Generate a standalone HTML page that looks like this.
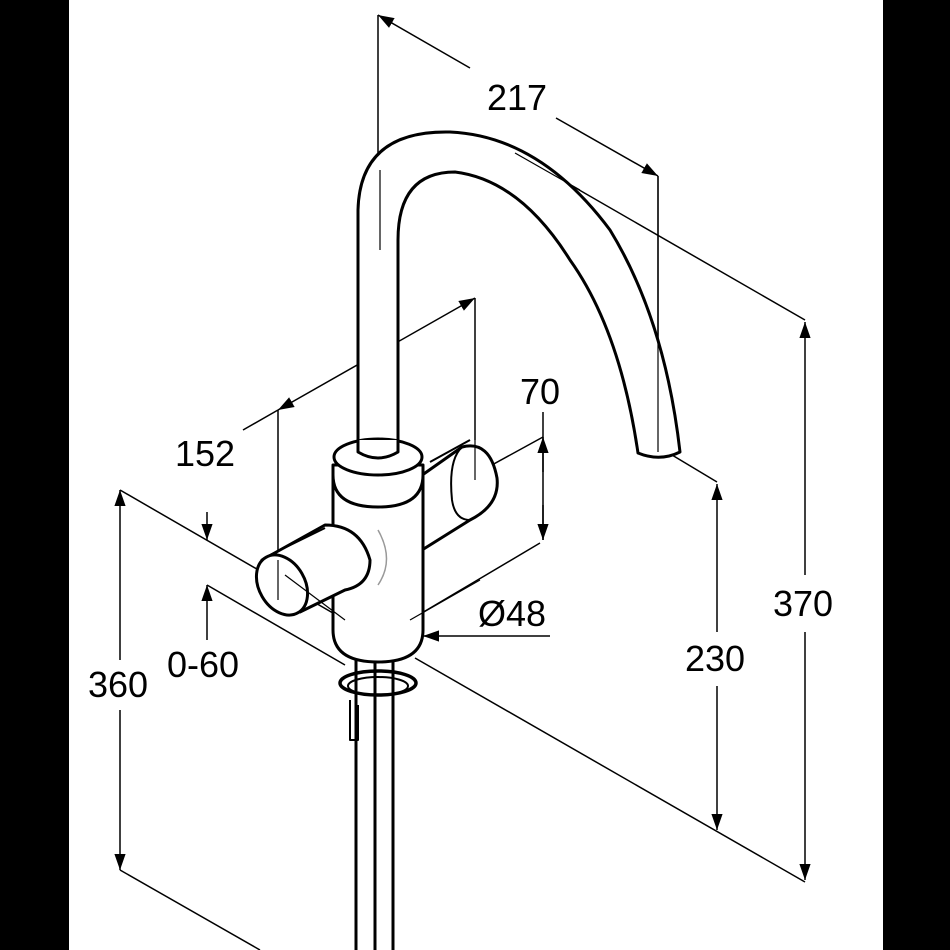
<!DOCTYPE html>
<html><head><meta charset="utf-8"><style>
html,body{margin:0;padding:0;background:#000;}
svg{display:block}
text{font-family:"Liberation Sans",sans-serif;font-size:36px;fill:#000}
</style></head><body>
<svg width="950" height="950" viewBox="0 0 950 950" xmlns="http://www.w3.org/2000/svg">
<defs>
<marker id="a" viewBox="0 0 10 10" refX="10" refY="5" markerWidth="16" markerHeight="16" markerUnits="userSpaceOnUse" orient="auto-start-reverse"><path d="M0,1.5 L10,5 L0,8.5z" fill="#000"/></marker>
</defs>
<rect x="0" y="0" width="950" height="950" fill="#000"/>
<rect x="69" y="0" width="814" height="950" fill="#fff"/>
<g stroke="#000" stroke-width="1.5" fill="none">
<line x1="378" y1="15" x2="378" y2="250"/>
<line x1="378" y1="15" x2="470" y2="68" marker-start="url(#a)"/>
<line x1="556" y1="118" x2="658" y2="176" marker-end="url(#a)"/>
<line x1="658" y1="176" x2="658" y2="450"/>
<line x1="515" y1="153" x2="805" y2="320"/>
<line x1="805" y1="322" x2="805" y2="575" marker-start="url(#a)"/>
<line x1="805" y1="632" x2="805" y2="880" marker-end="url(#a)"/>
<line x1="672" y1="455" x2="717" y2="482"/>
<line x1="717" y1="484" x2="717" y2="632" marker-start="url(#a)"/>
<line x1="717" y1="686" x2="717" y2="830" marker-end="url(#a)"/>
<line x1="415" y1="658" x2="805" y2="882"/>
<line x1="475" y1="298" x2="475" y2="440"/>
<line x1="278" y1="410" x2="278" y2="600"/>
<line x1="243" y1="430" x2="278" y2="410"/>
<line x1="278" y1="410" x2="475" y2="298" marker-start="url(#a)" marker-end="url(#a)"/>
<line x1="543" y1="412" x2="543" y2="540"/>
<line x1="543" y1="437" x2="543" y2="472" marker-start="url(#a)"/>
<line x1="543" y1="505" x2="543" y2="540" marker-end="url(#a)"/>
<line x1="470" y1="477" x2="543" y2="437"/>
<line x1="410" y1="620" x2="540" y2="543"/>
<line x1="423" y1="636" x2="550" y2="636" marker-start="url(#a)"/>
<line x1="120" y1="490" x2="120" y2="660" marker-start="url(#a)"/>
<line x1="120" y1="710" x2="120" y2="870" marker-end="url(#a)"/>
<line x1="120" y1="490" x2="345" y2="620"/>
<line x1="120" y1="870" x2="260" y2="950"/>
<line x1="207" y1="512" x2="207" y2="540" marker-end="url(#a)"/>
<line x1="207" y1="640" x2="207" y2="585" marker-end="url(#a)"/>
<line x1="207" y1="585" x2="345" y2="665"/>
</g>
<g stroke="#000" stroke-width="3" fill="#fff" stroke-linejoin="round">
<line x1="356" y1="660" x2="356" y2="950"/>
<line x1="375" y1="660" x2="375" y2="950"/>
<line x1="393" y1="660" x2="393" y2="950"/>
<ellipse cx="378" cy="683" rx="38" ry="12" fill="none" stroke-width="3.5"/>
<ellipse cx="378" cy="686" rx="30" ry="9" fill="none" stroke-width="2"/>
<path d="M350,700 L350,740 L358,740 L358,705" fill="none" stroke-width="2"/>
<path d="M358,455 L358,210 Q360,130 450,132 Q540,136 610,230 Q665,320 680,452 Q660,462 638,453 Q620,330 570,260 Q520,180 455,172 Q398,172 398,240 L398,455z"/>
<!-- right handle (behind body) -->
<path d="M418,478 L462,447 Q490,440 497,478 Q500,505 470,520 L422,550z"/>
<path d="M462,447 Q448,460 452,500 Q455,520 470,520" fill="none" stroke-width="2"/>
<path d="M430,462 L470,440" fill="none" stroke-width="2"/>
<!-- body -->
<path d="M333,465 L333,630 Q333,662 378,662 Q423,662 423,630 L423,465z"/>
<path d="M333,475 Q333,507 378,507 Q423,507 423,475" fill="none"/>
<ellipse cx="378" cy="457" rx="44" ry="18"/>
<path d="M358,440 L358,452 Q378,464 398,452 L398,440" stroke="none"/>
<path d="M358,440 L358,452 Q378,464 398,452 L398,440" fill="none"/>
<!-- left handle -->
<path d="M262,560 L325,525 Q360,525 370,560 Q370,585 345,590 L300,612z"/>
<path d="M270,555 L325,528" fill="none" stroke-width="2"/>
<ellipse cx="282" cy="585" rx="23" ry="32" transform="rotate(-30 282 585)"/>
<path d="M378,530 Q395,560 378,585" fill="none" stroke="#999" stroke-width="1.5"/>
</g>
<g stroke="#000" stroke-width="1.2">
<line x1="380" y1="170" x2="380" y2="250"/>
<line x1="515" y1="153" x2="580" y2="190"/>
<line x1="658" y1="176" x2="658" y2="452"/>
<line x1="475" y1="440" x2="475" y2="480"/>
<line x1="278" y1="560" x2="278" y2="600"/>
<line x1="285" y1="575" x2="345" y2="620"/>
<line x1="410" y1="620" x2="480" y2="580"/>
</g>
<rect x="475" y="78" width="80" height="40" fill="#fff"/>
<text x="517" y="110" text-anchor="middle">217</text>
<text x="540" y="404" text-anchor="middle">70</text>
<text x="205" y="466" text-anchor="middle">152</text>
<text x="512" y="626" text-anchor="middle">Ø48</text>
<rect x="765" y="580" width="80" height="48" fill="#fff"/>
<text x="803" y="616" text-anchor="middle">370</text>
<rect x="680" y="636" width="75" height="48" fill="#fff"/>
<text x="715" y="671" text-anchor="middle">230</text>
<rect x="82" y="662" width="75" height="46" fill="#fff"/>
<text x="118" y="697" text-anchor="middle">360</text>
<text x="203" y="677" text-anchor="middle">0-60</text>
</svg>
</body></html>
